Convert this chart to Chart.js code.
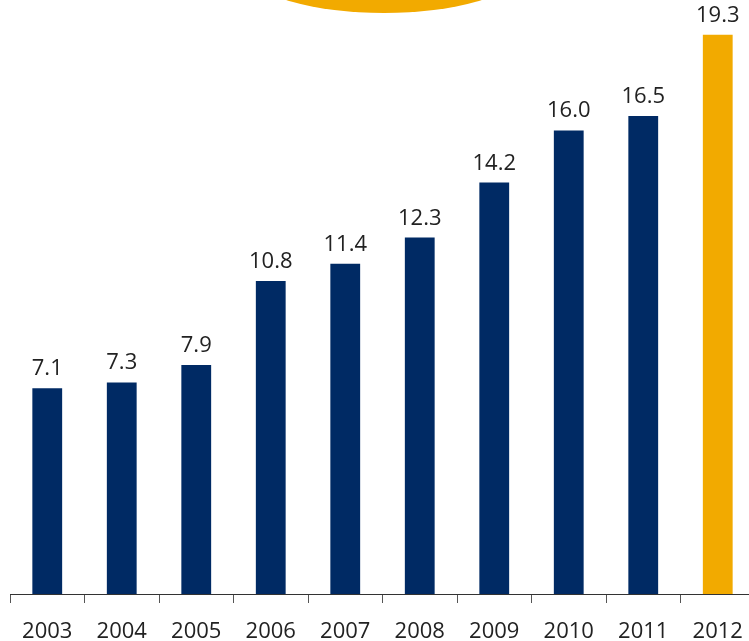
<!DOCTYPE html>
<html lang="en">
<head>
    <meta charset="UTF-8">
    <title>Annual values 2003-2012</title>
    <script src="https://cdn.jsdelivr.net/npm/chart.js"></script>
    <style>
        html, body { margin: 0; padding: 0; background: #fff; overflow: hidden; }
        /* slightly wider than the window: the last category runs past the right edge */
        .chart-container { position: relative; width: 755px; height: 641px; }
    </style>
</head>
<body>
    <div class="chart-container">
        <canvas id="barChart"></canvas>
    </div>

<script>
    // values per year
    const anos = ['2003', '2004', '2005', '2006', '2007', '2008', '2009', '2010', '2011', '2012'];
    const valores = [7.1, 7.3, 7.9, 10.8, 11.4, 12.3, 14.2, 16.0, 16.5, 19.3];

    const azul = '#002A64';
    const dourado = '#F2AA00';
    const fonte = '"Open Sans", sans-serif';
    // last year is highlighted in gold
    const cores = anos.map((a, i) => i === anos.length - 1 ? dourado : azul);

    // gold half-ellipse hanging from the top edge
    const elipse = {
        id: 'elipse',
        beforeDraw(chart) {
            const ctx = chart.ctx;
            ctx.save();
            ctx.fillStyle = dourado;
            ctx.beginPath();
            ctx.ellipse(384, -25, 130, 38, 0, 0, Math.PI * 2);
            ctx.fill();
            ctx.restore();
        }
    };

    // value written above each bar
    const rotulos = {
        id: 'rotulos',
        afterDatasetsDraw(chart) {
            const ctx = chart.ctx;
            const meta = chart.getDatasetMeta(0);
            ctx.save();
            ctx.font = '22px ' + fonte;
            ctx.fillStyle = '#222';
            ctx.textAlign = 'center';
            ctx.textBaseline = 'alphabetic';
            meta.data.forEach((bar, i) => {
                ctx.fillText(valores[i].toFixed(1), bar.x, bar.y - 13);
            });
            ctx.restore();
        }
    };

    const barCtx = document.getElementById('barChart').getContext('2d');
    const barChart = new Chart(barCtx, {
        type: 'bar',
        data: {
            labels: anos,
            datasets: [{
                data: valores,
                backgroundColor: cores,
                borderWidth: 0,
                categoryPercentage: 1.0,
                barPercentage: 0.4
            }]
        },
        options: {
            responsive: true,
            maintainAspectRatio: false,
            animation: false,
            layout: { padding: { left: 10, right: 0, top: 0, bottom: 0 } },
            plugins: {
                legend: { display: false },
                tooltip: { enabled: false }
            },
            scales: {
                x: {
                    offset: true,
                    // keep the axis low and don't let the labels push the sides in
                    afterFit(scale) {
                        scale.height = 47;
                        scale.paddingLeft = 0;
                        scale.paddingRight = 0;
                    },
                    grid: {
                        offset: true,
                        drawOnChartArea: false,
                        drawTicks: true,
                        tickLength: 9,
                        color: '#555',
                        lineWidth: 1
                    },
                    border: { display: true, color: '#333', width: 1 },
                    ticks: {
                        color: '#222',
                        padding: 16,
                        font: { family: fonte, size: 22 }
                    }
                },
                y: {
                    display: false,
                    min: 0,
                    max: 20.5
                }
            }
        },
        plugins: [elipse, rotulos]
    });
</script>
</body>
</html>
